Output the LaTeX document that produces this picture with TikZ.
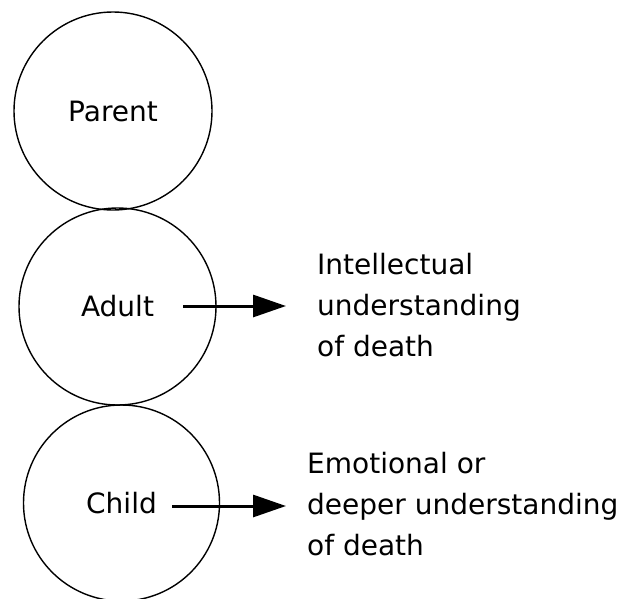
\documentclass[tikz,border=0pt]{standalone}
\usepackage{fontspec}
\setmainfont{DejaVu Sans}
\usetikzlibrary{arrows.meta}

\begin{document}
\begin{tikzpicture}[x=1pt, y=-1pt,
  font=\fontsize{28}{34}\selectfont,
  ring/.style={circle, draw, line width=1.4pt, inner sep=0pt},
  note/.style={anchor=west, align=left, inner sep=0pt, font=\fontsize{28}{41}\selectfont},
  arr/.style={line width=3pt, -{Triangle[length=33pt, width=22pt]}}]
  \useasboundingbox (0,0) rectangle (619,598);

  % the three ego states
  \node[ring, minimum size=198pt] (parent) at (113,111) {Parent};
  \node[ring, minimum size=197pt] (adult) at (117.5,306.5) {Adult};
  \node[ring, minimum size=196pt] (child) at (121.5,503) {Child};

  % what each one understands
  \node[note] (intel) at (317,305) {Intellectual\\understanding\\of death};
  \node[note] (deep) at (307,504) {Emotional or\\deeper understanding\\of death};

  % arrows out of the circles
  \coordinate (adultout) at (183,306);
  \coordinate (childout) at (172,506);
  \draw[arr, shorten >=31pt] (adultout) -- (adultout -| intel.west);
  \draw[arr, shorten >=21pt] (childout) -- (childout -| deep.west);
\end{tikzpicture}
\end{document}
